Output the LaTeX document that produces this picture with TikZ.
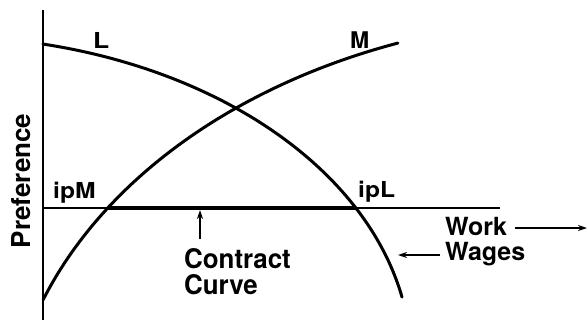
\documentclass[tikz,border=0pt]{standalone}
\usepackage{fontspec}
\setmainfont{TeX Gyre Heros}
\usetikzlibrary{arrows.meta}
\begin{document}
\begin{tikzpicture}[x=1pt,y=-1pt,
  lbl/.style={inner sep=0pt,anchor=base west},
  big/.style={lbl,font=\fontsize{25}{27}\selectfont\bfseries},
  small/.style={lbl,font=\fontsize{22}{24}\selectfont\bfseries,xscale=1.12},
  curve/.style={line width=3pt,line cap=round},
  arr/.style={line width=1.4pt,-{Stealth[length=9pt,width=6pt]}}]
\useasboundingbox (0,0) rectangle (587,322);
% axes
\coordinate (ytop) at (43,10);
\coordinate (ybot) at (43,320);
\draw[line width=2pt] (ytop) -- (ybot);
\coordinate (hl) at (43,208);
\coordinate (hr) at (500,208);
\draw[line width=1.5pt] (hl) -- (hr);
\coordinate (ipM) at (107,208);
\coordinate (ipL) at (356,208);
\draw[line width=3.2pt] (ipM) -- (ipL);
% curves (elliptic arcs)
\draw[curve] plot[domain=77.37:11.2,samples=80,smooth] ({-60+471*cos(\x)},{360-323.8*sin(\x)});
\draw[curve] plot[domain=20.3:70.1,samples=80,smooth] ({600-593.8*cos(\x)},{450-432.8*sin(\x)});
% labels
\node[lbl,font=\fontsize{22}{24}\selectfont\bfseries,xscale=1.2] (L) at (93,48) {L};
\node[lbl,font=\fontsize{23}{25}\selectfont\bfseries] (M) at (350,48) {M};
\node[small] (ipMl) at (53,198) {ipM};
\node[small] (ipLl) at (358,197) {ipL};
\node[inner sep=0pt,rotate=90,font=\fontsize{26}{28}\selectfont\bfseries] (pref) at (21,181) {Preference};
\node[lbl,font=\fontsize{27}{29}\selectfont\bfseries,xscale=0.96] (contract) at (184,268) {Contract};
\node[lbl,font=\fontsize{27}{29}\selectfont\bfseries,xscale=0.96] (curvel) at (184,294) {Curve};
\node[big] (work) at (445,235) {Work};
\node[big] (wages) at (445,260) {Wages};
% arrows
\coordinate (ca1) at (200,239);
\coordinate (ca2) at (200,210);
\draw[arr] (ca1) -- (ca2);
\coordinate (wk) at (587,228);
\draw[arr] ([xshift=8pt]work.east |- wk) -- (wk);
\coordinate (wg) at (398,255);
\draw[arr] ([xshift=-5pt]wages.west |- wg) -- (wg);
\end{tikzpicture}
\end{document}
